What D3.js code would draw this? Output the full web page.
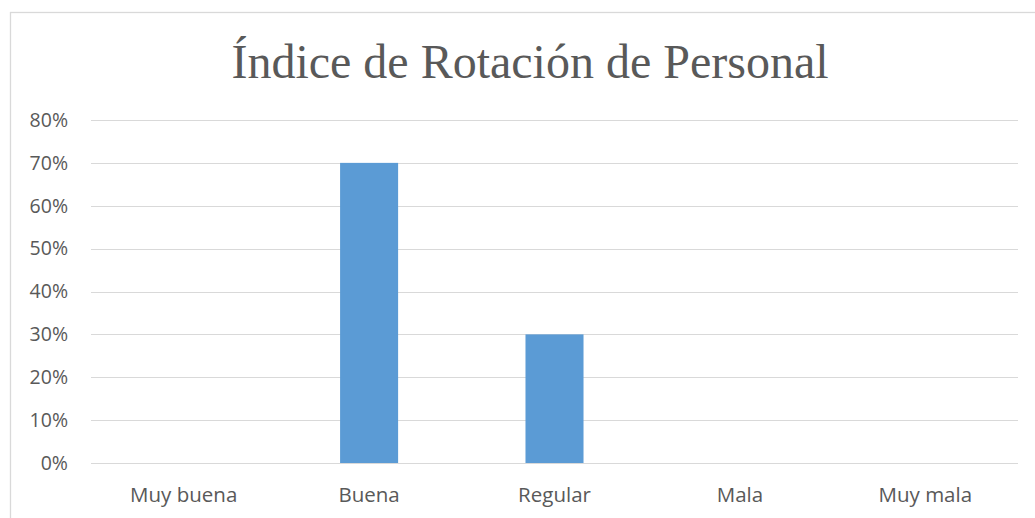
<!DOCTYPE html>
<meta charset="utf-8">
<style>
body {
  margin: 0;
  background: #fff;
}
svg {
  display: block;
}
.axis text {
  font-family: "Open Sans", "Noto Sans", sans-serif;
  fill: #595959;
}
.y.axis text {
  font-size: 19.5px;
}
.x.axis text {
  font-size: 20.5px;
}
.grid line {
  stroke: #d9d9d9;
  stroke-width: 1.3px;
  shape-rendering: crispEdges;
}
</style>
<body>
<script src="https://d3js.org/d3.v7.min.js"></script>
<script>

// Chart data
var categories = ["Muy buena", "Buena", "Regular", "Mala", "Muy mala"];
var values = [0, 0.70, 0.30, 0, 0];
var yTicks = [0, 0.1, 0.2, 0.3, 0.4, 0.5, 0.6, 0.7, 0.8];
var title = "Índice de Rotación de Personal";

var width = 1035, height = 518;
var margin = {top: 120, right: 17, bottom: 55, left: 91};

var svg = d3.select("body").append("svg")
    .attr("width", width)
    .attr("height", height);

// outer chart border (cut off at right and bottom like the screenshot)
svg.append("rect")
    .attr("x", 10.5)
    .attr("y", 12.5)
    .attr("width", 1060)
    .attr("height", 560)
    .attr("fill", "none")
    .attr("stroke", "#d9d9d9")
    .attr("stroke-width", 1.3);

var x = d3.scaleBand()
    .domain(categories)
    .range([margin.left, width - margin.right])
    .paddingInner(0.687)
    .paddingOuter(0.3435);

var y = d3.scaleLinear()
    .domain([0, 0.8])
    .range([height - margin.bottom, margin.top]);

// gridlines
svg.append("g")
    .attr("class", "grid")
    .selectAll("line")
    .data(yTicks)
    .enter().append("line")
      .attr("x1", margin.left)
      .attr("x2", width - margin.right)
      .attr("y1", function(d) { return Math.round(y(d)) + 0.5; })
      .attr("y2", function(d) { return Math.round(y(d)) + 0.5; });

// bars
svg.selectAll(".bar")
    .data(values)
    .enter().append("rect")
      .attr("class", "bar")
      .attr("x", function(d, i) { return x(categories[i]); })
      .attr("width", x.bandwidth())
      .attr("y", function(d) { return y(d); })
      .attr("height", function(d) { return y(0) - y(d); })
      .attr("fill", "#5b9bd5");

// y axis
var yAxis = d3.axisLeft(y)
    .tickValues(yTicks)
    .tickFormat(d3.format(".0%"))
    .tickSize(0)
    .tickPadding(23);

svg.append("g")
    .attr("class", "y axis")
    .attr("transform", "translate(" + margin.left + ",0)")
    .call(yAxis)
    .call(function(g) { g.select(".domain").remove(); });

// x axis
var xAxis = d3.axisBottom(x)
    .tickSize(0)
    .tickPadding(24);

svg.append("g")
    .attr("class", "x axis")
    .attr("transform", "translate(0," + y(0) + ")")
    .call(xAxis)
    .call(function(g) { g.select(".domain").remove(); });

// title
svg.append("text")
    .attr("x", 530)
    .attr("y", 78)
    .attr("text-anchor", "middle")
    .style("font-family", "'Liberation Serif', 'DejaVu Serif', serif")
    .style("font-size", "48px")
    .style("fill", "#595959")
    .text(title);

</script>
</body>
